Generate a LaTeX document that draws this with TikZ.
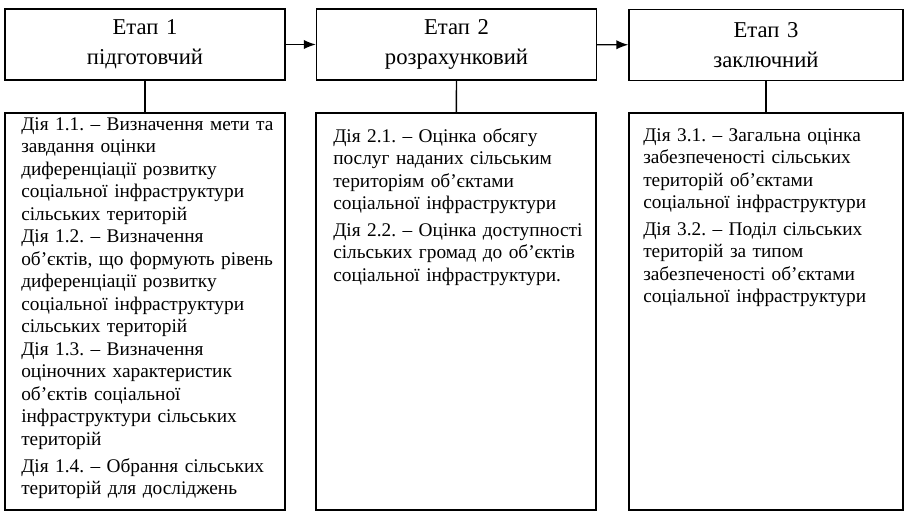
\documentclass[tikz,border=0pt]{standalone}
\usepackage{fontspec}
\setmainfont{Liberation Serif}
\usetikzlibrary{arrows.meta}
\frenchspacing
\tikzset{%
    every node/.style={inner sep=0pt, font=\fontsize{14.5}{16.9}\selectfont},
    stagebox/.style={draw, line width=1pt, align=center, minimum width=210pt,
        minimum height=53.25pt, text width=200pt,
        font=\fontsize{17}{22.5}\selectfont},
    actbox/.style={draw, line width=1pt, minimum width=210pt,
        minimum height=297.75pt},
    acttext/.style={align=left, anchor=north west, text width=220pt}
}

\begin{document}
\begin{tikzpicture}[x=0.75pt, y=-0.75pt]
  \useasboundingbox (0, 0) rectangle (904, 513);
  % stages
  \node (s1) [stagebox] at (145, 44.5) {Етап 1\\підготовчий};
  \node (s2) [stagebox] at (456.5, 44.5) {Етап 2\\розрахунковий};
  \node (s3) [stagebox, minimum width=205.5pt] at (766, 45) {Етап 3\\заключний};

  % actions
  \node (d1) [actbox] at (145, 311.5) {};
  \node (d2) [actbox] at (456, 311.5) {};
  \node (d3) [actbox, minimum width=205.5pt] at (766, 311.5) {};

  \node (a1) [acttext] at (21, 117) {Дія 1.1. – Визначення мети та\\
    завдання оцінки\\диференціації розвитку\\соціальної інфраструктури\\
    сільських територій\\Дія 1.2. – Визначення\\
    об’єктів, що формують рівень\\диференціації розвитку\\
    соціальної інфраструктури\\сільських територій\\Дія 1.3. – Визначення\\
    оціночних характеристик\\об’єктів соціальної\\
    інфраструктури сільських\\територій\\[3pt]
    Дія 1.4. – Обрання сільських\\територій для досліджень};
  \node (a2) [acttext] at (333, 128) {Дія 2.1. – Оцінка обсягу\\
    послуг наданих сільським\\територіям об’єктами\\
    соціальної інфраструктури\\[3pt]
    Дія 2.2. – Оцінка доступності\\сільських громад до об’єктів\\
    соціальної інфраструктури.};
  \node (a3) [acttext] at (643, 128) {Дія 3.1. – Загальна оцінка\\
    забезпеченості сільських\\територій об’єктами\\
    соціальної інфраструктури\\[3pt]
    Дія 3.2. – Поділ сільських\\територій за типом\\
    забезпеченості об’єктами\\соціальної інфраструктури};

  \draw [line width=1pt] (s1) edge [-{Latex[length=9pt, width=7pt]}] (s2);
  \draw [line width=1pt] (s2) edge [-{Latex[length=9pt, width=7pt]}] (s3);
  \draw [line width=1pt] (s1) edge (d1);
  \draw [line width=1pt] (s2) edge (d2);
  \draw [line width=1pt] (s3) edge (d3);
\end{tikzpicture}
\end{document}
